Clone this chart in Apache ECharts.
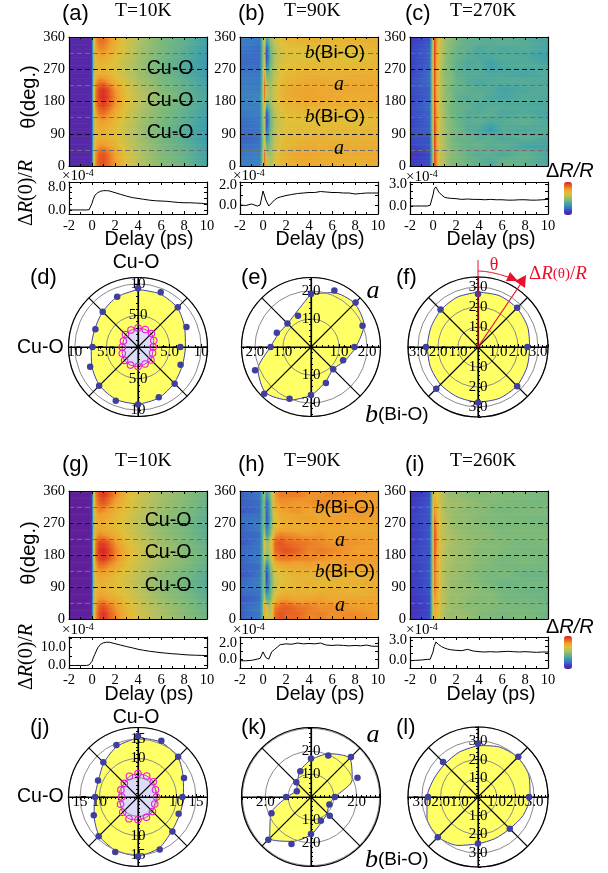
<!DOCTYPE html>
<html><head><meta charset="utf-8">
<script src="https://cdn.jsdelivr.net/npm/echarts@6/dist/echarts.min.js"></script>
<style>html,body{margin:0;padding:0;background:#fff}#c{width:608px;height:873px}</style></head>
<body><div id="c"></div>
<script>
// ---------- heat-map data (colour level 0-100, rows = theta strips, columns = delay nodes)
const heatDelays=[-2,-0.3,-0.05,0.1,0.3,0.6,1,1.5,2,3,4,5,6,8,10];
const heatThetas=[0,22.5,45,67.5,90,112.5,135,157.5,180,202.5,225,247.5,270,292.5,315,337.5,360];
const heatA=[
[4,4,8,50,82,90,92,86,78,66,57,52,47,42,34],[4,4,8,50,80,90,92,85,77,65,56,51,46,41,33],
[4,4,8,48,74,80,80,76,72,62,54,50,45,40,33],[4,4,8,46,70,73,72,70,68,60,53,48,44,38,31],
[4,4,8,46,70,73,73,71,68,60,53,48,44,38,31],[4,4,8,46,72,77,78,74,70,61,54,49,45,39,32],
[4,4,8,48,76,84,86,80,74,63,55,50,46,40,33],[4,4,8,50,82,91,94,88,79,66,57,52,47,41,34],
[4,4,8,52,85,95,98,91,81,67,58,53,48,42,35],[4,4,8,52,84,94,97,90,79,66,57,52,47,41,34],
[4,4,8,48,78,84,84,78,72,62,54,50,45,40,33],[4,4,8,46,70,73,72,70,66,59,52,48,44,38,31],
[4,4,8,46,68,71,70,68,65,58,52,47,43,37,30],[4,4,8,46,71,75,74,71,67,60,53,48,44,38,31],
[4,4,8,48,76,81,82,76,71,62,54,49,45,39,32],[4,4,8,50,80,86,86,80,73,63,55,50,45,40,33]];
const heatB=[
[24,24,50,88,62,55,64,70,72,74,75,73,74,72,74],[22,24,50,92,55,50,62,70,72,76,76,75,73,74,75],
[20,22,45,75,40,48,60,68,70,72,74,72,74,73,74],[18,20,45,65,28,44,58,66,69,70,71,72,70,71,72],
[20,22,45,60,16,42,57,64,67,68,69,68,70,70,71],[20,22,45,60,10,40,56,62,66,67,66,68,68,66,70],
[22,24,48,62,12,42,56,64,68,69,69,70,68,70,71],[24,24,48,75,35,48,60,68,71,72,73,72,73,73,74],
[24,26,50,88,58,52,62,70,73,75,77,76,75,73,75],[24,24,50,90,60,52,62,70,73,76,76,74,75,75,75],
[24,22,48,88,50,50,60,68,71,73,75,75,73,75,75],[22,22,46,82,40,47,58,66,69,71,72,71,72,72,73],
[20,20,45,70,18,42,56,64,67,68,69,69,68,69,71],[20,20,45,62,10,40,55,62,65,66,65,67,68,65,70],
[22,20,45,60,12,42,56,63,66,67,68,66,68,68,71],[24,22,46,68,30,48,60,67,70,71,72,72,70,72,73]];
const heatC=[
[10,14,46,94,82,58,54,47,45,42,40,36,42,40,36],[8,14,48,95,80,58,54,48,46,41,38,40,36,41,35],
[12,16,50,96,78,60,54,46,44,40,42,38,40,34,34],[14,16,52,96,78,58,52,46,42,42,38,40,36,40,36],
[14,18,54,97,80,58,52,46,44,38,36,30,38,36,38],[12,18,56,96,78,60,50,46,42,38,40,36,38,40,36],
[14,18,56,95,78,58,52,44,42,38,38,40,36,38,34],[14,20,56,94,76,58,50,44,42,40,36,38,38,36,36],
[12,18,58,95,76,56,50,46,40,38,40,36,35,38,36],[14,18,56,94,74,58,50,44,42,40,38,38,34,36,38],
[14,20,58,94,74,56,50,46,42,38,36,37,38,38,36],[12,20,58,94,76,56,48,46,40,38,38,36,36,34,38],
[12,18,58,95,74,58,50,44,40,36,38,32,36,38,36],[12,18,58,96,76,60,50,44,42,38,36,36,38,36,32],
[12,18,54,96,78,58,52,46,42,40,36,38,36,38,34],[10,16,50,95,80,60,52,48,44,40,40,38,40,38,35]];
const heatG=[
[1,1,6,48,80,92,97,90,83,72,64,58,54,48,42],[1,1,6,48,78,90,92,86,80,70,62,57,53,47,41],
[1,1,6,46,74,80,80,76,74,66,60,55,51,46,40],[1,1,6,46,70,74,72,70,68,64,58,53,49,44,38],
[1,1,6,46,68,72,71,70,68,63,57,52,48,43,37],[1,1,6,46,71,76,75,73,70,64,58,53,49,44,38],
[1,1,6,48,76,84,83,79,75,67,60,55,51,46,40],[1,1,6,50,83,93,96,90,82,70,62,57,53,47,41],
[1,1,6,52,86,97,99,93,84,71,63,57,53,47,41],[1,1,6,52,84,94,95,89,80,69,61,56,52,46,40],
[1,1,6,48,76,82,80,77,73,65,59,54,50,45,39],[1,1,6,46,70,74,72,71,68,63,57,53,49,44,38],
[1,1,6,46,72,76,74,72,70,64,58,54,50,45,39],[1,1,6,48,76,82,80,76,72,66,60,55,51,46,40],
[1,1,6,50,80,88,90,84,77,68,61,56,52,47,41],[1,1,6,50,84,92,96,90,82,70,63,57,53,48,42]];
const heatH=[
[18,22,40,72,68,55,86,92,88,88,82,84,80,82,78],[18,24,40,78,62,52,84,88,90,86,84,80,82,78,78],
[16,20,40,60,40,42,70,78,78,74,76,78,74,76,76],[20,22,40,50,22,38,62,68,70,72,70,72,74,70,74],
[20,24,40,48,14,36,60,66,68,70,72,69,70,72,74],[16,22,40,48,10,38,62,66,68,72,70,72,74,70,74],
[18,20,40,50,18,44,68,72,74,74,76,74,76,78,76],[18,24,40,60,40,52,80,84,84,82,82,80,78,79,78],
[20,22,40,65,50,58,86,90,92,88,82,84,82,78,78],[16,22,40,70,52,60,88,92,88,86,84,82,80,80,78],
[18,20,40,58,30,45,78,84,82,80,78,80,76,78,76],[18,24,40,48,20,38,68,72,74,72,74,76,76,74,76],
[22,22,40,46,14,34,66,72,74,76,78,74,78,78,78],[16,20,40,46,16,36,70,76,78,80,76,78,76,80,78],
[18,20,40,46,16,38,74,80,80,78,80,82,80,78,78],[18,22,40,50,28,46,78,84,84,84,80,80,82,80,78]];
const heatI=[
[8,14,52,74,70,62,54,50,52,50,46,46,44,46,42],[7,14,52,76,72,64,54,52,50,48,48,46,46,44,44],
[8,14,54,80,74,62,56,50,52,48,46,48,44,44,42],[10,16,54,84,76,62,54,52,50,50,48,46,44,42,42],
[10,16,54,86,78,64,56,50,50,48,46,44,42,44,44],[10,16,54,86,76,62,54,52,52,48,46,44,46,42,42],
[10,16,54,88,78,64,56,52,50,50,46,46,44,44,44],[12,16,54,90,78,62,56,54,52,50,48,46,44,46,44],
[12,16,54,91,80,64,56,52,52,50,46,48,46,44,44],[10,16,54,92,82,64,58,54,52,50,48,46,46,44,46],
[10,16,54,92,82,62,56,54,52,50,48,48,46,46,46],[10,16,54,90,80,62,56,52,50,48,48,46,44,46,44],
[12,16,54,87,76,62,56,52,50,50,46,46,46,44,44],[10,16,54,82,74,62,54,52,50,48,48,46,44,46,46],
[10,16,52,76,70,60,54,52,52,50,48,46,46,44,44],[8,14,52,72,68,60,54,50,50,48,46,48,46,46,44]];
const palette=['#641c96','#3c3cc4','#3a78c4','#3fa2a8','#78b87c','#b4c060','#e0c038','#f0a02c','#e8601f','#d81e26'];
// ---------- delay traces
const lineDelays=[-2,-1.5,-1,-0.5,-0.25,0,0.1,0.25,0.5,0.75,1,1.25,1.5,2,2.5,3,3.5,4,4.5,5,5.5,6,6.5,7,7.5,8,8.5,9,9.5,10];
const lineA=[0,0,0,0,0.1,2.3,3.6,5.1,6,6.5,6.7,6.7,6.6,6,5.4,4.8,4.3,4,3.7,3.4,3.2,3.1,3,2.8,2.6,2.5,2.5,2.4,2.3,2.1];
const lineB=[0,-0.05,0.1,-0.1,0,1.4,1.2,0.5,-0.1,0.2,0.5,0.7,0.8,0.95,1.05,1.15,1.2,1.25,1.25,1.35,1.3,1.25,1.25,1.2,1.2,1.1,1.15,1.2,1.2,1.2];
const lineC=[0,0,0,0,0.1,1.5,2.3,2.6,1.9,1.5,1.2,1.1,1.05,1,0.9,0.95,0.9,0.9,0.85,0.9,0.85,0.85,0.8,0.8,0.85,0.85,0.8,0.8,0.85,0.9];
const lineG=[-0.3,-0.3,-0.3,-0.3,0,2,3.8,6,9.5,11.5,12.3,12.6,12.6,11.8,11,10.2,9.5,8.7,8.1,7.6,7.2,6.8,6.5,6.2,6,5.7,5.5,5.4,5.3,5.2];
const lineH=[-0.2,-0.2,-0.15,0,0.1,0.9,0.8,0.2,0,0.9,1.2,1.5,1.8,1.9,1.85,2,1.9,1.95,1.9,2,1.75,1.7,1.75,1.7,1.65,1.7,1.65,1.75,1.6,1.6];
const lineI=[-0.1,-0.05,0,0.1,0.1,1.2,2,2.7,2.3,2,1.8,1.65,1.55,1.45,1.4,1.6,1.35,1.25,1.2,1.25,1.2,1.25,1.3,1.25,1.2,1.25,1.2,1.15,1.2,1.2];
// ---------- polar data (theta clockwise from top)
const theta16=[0,22.5,45,67.5,90,112.5,135,157.5,180,202.5,225,247.5,270,292.5,315,337.5];
const theta8=[0,45,90,135,180,225,270,315];
const ptsD=[9.3,9.4,8.9,8.3,6.7,7.3,8.2,8.6,9.1,9.2,8.7,8.2,7.2,7.3,7.9,8.6];
const fitD=[9.1,9.1,8.8,8.0,7.5,7.6,8.1,8.7,9.0,9.0,8.6,7.9,7.4,7.4,7.9,8.6];
const innerD=[3.0,3.0,3.0,2.7,2.4,2.5,2.9,2.9,3.1,3.1,3.0,2.7,2.5,2.5,2.8,2.9];
const ptsE=[1.89,2.18,2.25,1.99,1.55,1.24,1.12,1.39,1.71,2.0,2.36,2.16,1.44,1.32,1.19,1.21];
const fitE=[1.9,2.1,2.2,2.05,1.6,1.3,1.12,1.35,1.72,2.05,2.3,2.05,1.45,1.25,1.18,1.35];
const ptsF=[2.65,2.77,2.47,2.77,2.78,2.95,2.6,2.65];
const fitF=[2.75,2.78,2.75,2.68,2.58,2.65,2.75,2.78,2.75,2.7,2.65,2.58,2.53,2.55,2.62,2.7];
const ptsJ=[15.8,15.8,14.7,12.9,11.5,11.4,12.6,14.7,15.4,15.4,14.4,12.4,11.1,11.2,12.7,14.6];
const fitJ=[15.4,15.4,14.6,12.7,11.8,11.7,12.4,14.3,15.2,15,14.2,12.3,11.2,11.1,12.5,14.2];
const innerJ=[6.1,5.9,5.6,4.9,4.8,4.7,5.3,5.7,5.9,6.1,5.6,4.9,4.2,4.8,5.0,5.8];
const ptsK=[1.68,1.97,2.47,2.2,1.04,0.87,1.16,1.13,1.62,2.23,2.64,1.87,1.09,0.67,0.91,1.22];
const fitK=[1.65,2.05,2.4,1.95,1.05,0.85,1.0,1.2,1.65,2.1,2.55,1.9,1.05,0.7,0.85,1.25];
const ptsL=[2.85,3.04,2.73,2.4,2.48,3.04,2.67,2.64];
const fitL=[2.75,2.9,3.0,2.95,2.78,2.6,2.4,2.4,2.5,2.8,3.02,2.95,2.72,2.55,2.5,2.6];
// ---------- tick labels
const heatYLabels=[0,90,180,270,360];
const delayTicks=[-2,0,2,4,6,8,10];
const ringLabels={
 d:{top:['5.0','10'],right:['5.0','10'],bottom:['5.0','10'],left:['5.0','10']},
 e:{top:['1.0','2.0'],right:['1.0','2.0'],bottom:['1.0','2.0'],left:['1.0','2.0']},
 f:{top:['1.0','2.0','3.0'],right:['1.0','2.0','3.0'],bottom:['1.0','2.0','3.0'],left:['1.0','2.0','3.0']},
 j:{top:['','10','15'],right:['','10','15'],bottom:['','10','15'],left:['','10','15']},
 k:{top:['1.0','2.0',''],right:['','2.0',''],bottom:['1.0','2.0',''],left:['','2.0','']},
 l:{top:['1.0','2.0','3.0'],right:['1.0','2.0','3.0'],bottom:['1.0','2.0','3.0'],left:['1.0','2.0','3.0']}
};

const SERIF='"Liberation Serif",serif', SANS='"Liberation Sans",sans-serif';
function hex(c){return [1,3,5].map(i=>parseInt(c.substr(i,2),16));}
function colorOf(v){
  const p=Math.max(0,Math.min(99.999,v))/100*(palette.length-1),i=Math.floor(p),f=p-i;
  const a=hex(palette[i]),b=hex(palette[i+1]);
  return 'rgb('+a.map((x,k)=>Math.round(x+(b[k]-x)*f)).join(',')+')';
}
const option={animation:false,backgroundColor:'#fff',grid:[],xAxis:[],yAxis:[],polar:[],angleAxis:[],radiusAxis:[],series:[],graphic:[],visualMap:[]};
const tickStyle={color:'#000',width:1};
const lbl=(extra)=>Object.assign({color:'#000',fontFamily:SERIF,fontSize:14.5},extra||{});

function addFrame(l,t,w,h,xo,yo){
  const g=option.grid.length;
  option.grid.push({left:l,top:t,width:w,height:h,containLabel:false});
  const xi=option.xAxis.length, yi=option.yAxis.length;
  const xBase={type:'value',gridIndex:g,min:-2,max:10,interval:2,z:5,splitLine:{show:false},
    axisLine:{show:true,onZero:false,lineStyle:{color:'#000',width:1.2}},
    axisTick:{show:true,inside:true,length:3,lineStyle:tickStyle},minorTick:{show:true,splitNumber:2,length:2,lineStyle:tickStyle}};
  option.xAxis.push(Object.assign({},xBase,{position:'bottom',axisLabel:xo.labels?lbl({margin:5,customValues:delayTicks}):{show:false}}));
  option.xAxis.push(Object.assign({},xBase,{position:'top',axisLabel:{show:false}}));
  const yBase=Object.assign({type:'value',gridIndex:g,z:5,axisLine:{show:true,onZero:false,lineStyle:{color:'#000',width:1.2}},
    axisTick:{show:true,inside:true,length:3,lineStyle:tickStyle},splitLine:{show:false}},yo.base);
  option.yAxis.push(Object.assign({},yBase,{position:'left',axisLabel:yo.label,splitLine:yo.leftSplit||{show:false}}));
  option.yAxis.push(Object.assign({},yBase,{position:'right',axisLabel:{show:false},splitLine:yo.rightSplit||{show:false}}));
  return {x:xi,y:yi};
}
function heatPanel(l,t,w,h,rows){
  const a=addFrame(l,t,w,h,{labels:false},{
    base:{min:0,max:360,interval:90},
    label:lbl({margin:4,customValues:heatYLabels}),
    leftSplit:{show:true,showMinLine:false,showMaxLine:false,lineStyle:{color:'#111',type:[5,3],width:1}}});
  // grey half-way guides live on the right axis at a 45 deg interval
  option.yAxis[a.y+1].interval=45;
  option.yAxis[a.y+1].z=4;
  option.yAxis[a.y+1].axisTick={show:false};
  option.yAxis[a.y+1].splitLine={show:true,showMinLine:false,showMaxLine:false,lineStyle:{color:'#6e6e6e',type:[5,3],width:1}};
  // each read value sits at the middle of its theta strip; the cells are shaded bilinearly between them
  const mids=rows.map((_,r)=>(heatThetas[r]+heatThetas[r+1])/2), last=rows.length-1, data=[];
  for(let r=-1;r<=last;r++){
    const lo=rows[Math.max(r,0)],hi=rows[Math.min(r+1,last)];
    const y0=r<0?heatThetas[0]:mids[r], y1=r===last?heatThetas[last+1]:mids[r+1];
    for(let c=0;c<lo.length-1;c++)
      data.push([heatDelays[c],heatDelays[c+1],y0,y1,lo[c],lo[c+1],hi[c],hi[c+1]]);
  }
  option.series.push({type:'custom',xAxisIndex:a.x,yAxisIndex:a.y,z:2,clip:true,silent:true,
    dimensions:['x0','x1','y0','y1','v00','v10','v01','v11'],encode:{x:[0,1],y:[2,3]},data,
    renderItem:(p,api)=>{
      const A=api.coord([api.value(0),api.value(3)]),B=api.coord([api.value(1),api.value(2)]);
      const v00=api.value(4),v10=api.value(5),v01=api.value(6),v11=api.value(7);
      const H=B[1]-A[1],W=B[0]-A[0],N=Math.max(1,Math.round(H/1.5)),M=Math.max(2,Math.min(8,Math.round(Math.abs(v10-v00)/6)+2));
      const children=[];
      for(let k=0;k<N;k++){
        const f=(k+0.5)/N;            // f=0 at the top edge (y1), 1 at the bottom edge (y0)
        const vl=v01+(v00-v01)*f, vr=v11+(v10-v11)*f, stops=[];
        for(let i=0;i<=M;i++)stops.push({offset:i/M,color:colorOf(vl+(vr-vl)*i/M)});
        children.push({type:'rect',shape:{x:A[0],y:A[1]+H*k/N,width:W+0.6,height:H/N+0.6},
          style:{fill:new echarts.graphic.LinearGradient(0,0,1,0,stops)}});
      }
      return {type:'group',children};
    }});
  return option.series.length-1;
}
function linePanel(l,t,w,h,vals,min,max,labels,ticks){
  const a=addFrame(l,t,w,h,{labels:true},{
    base:{min,max,axisTick:{show:true,inside:true,length:3,lineStyle:tickStyle,customValues:ticks}},
    label:lbl({margin:3,customValues:labels,formatter:v=>Number(v).toFixed(1)})});
  option.series.push({type:'line',xAxisIndex:a.x,yAxisIndex:a.y,z:3,showSymbol:false,symbol:'none',silent:true,
    lineStyle:{color:'#000',width:1},data:lineDelays.map((d,i)=>[d,vals[i]])});
}
function close(a){return a.concat([a[0]]);}
function polarPanel(cx,cy,R,rmax,step,labels,pts,ptThetas,fit,inner){
  const dirs=[['main',90],['top',90],['right',0],['bottom',270],['left',180]];
  const curveTheta=theta16.concat([360]);
  let mainIdx;
  dirs.forEach(([name,start])=>{
    const idx=option.polar.length;
    option.polar.push({center:[cx,cy],radius:[0,R]});
    if(name==='main'){
      mainIdx=idx;
      option.angleAxis.push({polarIndex:idx,type:'value',min:0,max:360,interval:45,startAngle:90,clockwise:true,z:5,
        axisLine:{show:false},axisTick:{show:false},axisLabel:{show:false},minorTick:{show:false},
        splitLine:{show:true,lineStyle:{color:'#000',width:1.1}}});
      option.radiusAxis.push({polarIndex:idx,type:'value',min:0,max:rmax,interval:step,z:4,
        axisLine:{show:false},axisTick:{show:false},axisLabel:{show:false},
        splitLine:{show:true,lineStyle:{color:'#8a8a8a',width:1}}});
    }else{
      option.angleAxis.push({polarIndex:idx,type:'value',min:0,max:360,startAngle:start,z:6,
        axisLine:{show:name==='left',lineStyle:{color:'#000',width:1.2}},axisTick:{show:false},axisLabel:{show:false},splitLine:{show:false}});
      const tx=labels[name];
      const lab=lbl({fontSize:15,showMaxLabel:false,showMinLabel:false,margin:name==='left'?-2:(name==='right'?2:0),
        align:'center',verticalAlign:(name==='left'||name==='right')?'top':'middle',
        formatter:v=>{const i=Math.round(v/step)-1;return (Math.abs(v/step-Math.round(v/step))<1e-6&&tx[i])||'';}});
      option.radiusAxis.push({polarIndex:idx,type:'value',min:0,max:rmax,interval:step,z:6,
        axisLine:{show:true,lineStyle:{color:'#000',width:1.2}},
        axisTick:{show:true,length:3,inside:false,lineStyle:tickStyle},
        minorTick:{show:true,splitNumber:5,length:2,lineStyle:tickStyle},
        splitLine:{show:false},axisLabel:lab});
    }
  });
  option.series.push({type:'line',coordinateSystem:'polar',polarIndex:mainIdx,z:2,silent:true,symbol:'none',smooth:0.25,
    data:close(fit).map((v,i)=>[v,curveTheta[i]]),lineStyle:{color:'#4040a8',width:1},areaStyle:{color:'#ffff66',opacity:1}});
  option.series.push({type:'scatter',coordinateSystem:'polar',polarIndex:mainIdx,z:8,silent:true,symbol:'circle',symbolSize:6.5,
    data:pts.map((v,i)=>[v,ptThetas[i]]),itemStyle:{color:'#3f3f9f',opacity:1}});
  if(inner){
    option.series.push({type:'line',coordinateSystem:'polar',polarIndex:mainIdx,z:3,silent:true,symbol:'none',smooth:0.25,
      data:close(inner).map((v,i)=>[v,curveTheta[i]]),lineStyle:{color:'#e020d0',width:1},areaStyle:{color:'#dcdcf8',opacity:1}});
    option.series.push({type:'scatter',coordinateSystem:'polar',polarIndex:mainIdx,z:8,silent:true,symbol:'circle',symbolSize:6.5,
      data:inner.map((v,i)=>[v,theta16[i]]),itemStyle:{color:'rgba(0,0,0,0)',borderColor:'#e81cd8',borderWidth:1.1,opacity:1}});
  }
}
// heat panels
const s0=heatPanel(69,37,138,129,heatA); heatPanel(240,37,138,129,heatB); heatPanel(410,37,138,129,heatC);
const s1=heatPanel(69,491,138,128,heatG); heatPanel(240,491,138,128,heatH); heatPanel(410,491,138,128,heatI);
// traces
linePanel(69,182,138,32,lineA,-1.4,9.7,[0,8],[0,2,4,6,8]);
linePanel(240,182,138,32,lineB,-0.9,2.3,[0,2],[0,1,2]);
linePanel(410,182,138,32,lineC,-1.09,3.27,[0,3],[0,1,2,3]);
linePanel(69,637,138,31,lineG,-1.7,15.5,[0,10],[0,5,10,15]);
linePanel(240,637,138,31,lineH,-1.1,2.75,[0,2],[0,1,2]);
linePanel(410,637,138,31,lineI,-1.2,3.45,[0,3],[0,1,2,3]);
// polar panels
polarPanel(138,347,69.5,11,5,ringLabels.d,ptsD,theta16,fitD,innerD);
polarPanel(311,347,69.5,2.48,1,ringLabels.e,ptsE,theta16,fitE);
polarPanel(478,347,70,3.5,1,ringLabels.f,ptsF,theta8,fitF);
polarPanel(138,797,69.5,18,5,ringLabels.j,ptsJ,theta16,fitJ,innerJ);
polarPanel(311,797,69.5,3.04,1,ringLabels.k,ptsK,theta16,fitK);
polarPanel(478,797,70,3.74,1,ringLabels.l,ptsL,theta8,fitL);
// colour bars
[[182,s0],[636,s1]].forEach(([top,si])=>option.visualMap.push({type:'continuous',show:true,calculable:false,seriesIndex:si,dimension:4,
  min:0,max:100,left:564,top:top,itemWidth:8,itemHeight:33,padding:0,text:null,showLabel:false,hoverLink:false,realtime:false,
  inRange:{color:palette},textStyle:{fontSize:0}}));
// text
function T(x,y,text,o){o=o||{};
  option.graphic.push({type:'text',x,y,rotation:o.rot||0,z:50,silent:true,
    style:{text,fill:o.fill||'#000',font:(o.w||'')+' '+(o.s||19)+'px '+(o.f||SANS),align:o.a||'left',verticalAlign:'middle',rich:o.rich}});
}
const ser=(s,st,fill)=>({font:(st||'')+' '+s+'px '+SERIF,fill:fill||'#000',verticalAlign:'middle'});
const san=(s,st)=>({font:(st||'')+' '+s+'px '+SANS,fill:'#000'});
[['(a)',62,14],['(b)',238,14],['(c)',405,14],['(d)',30,278],['(e)',241,278],['(f)',396,278],
 ['(g)',62,465],['(h)',238,465],['(i)',405,465],['(j)',30,728],['(k)',241,728],['(l)',396,728]].forEach(a=>T(a[1],a[2],a[0],{s:22}));
[['T=10K',115,11],['T=90K',284,11],['T=270K',450,11],['T=10K',115,461],['T=90K',284,461],['T=260K',450,461]].forEach(a=>T(a[1],a[2],a[0],{f:SERIF,s:19.5}));
[[149,240],[320,240],[491,240],[149,695],[320,695],[491,695]].forEach(a=>T(a[0],a[1],'Delay (ps)',{s:19.5,a:'center'}));
[[29,97],[29,553]].forEach(a=>T(a[0],a[1],'θ(deg.)',{s:20,a:'center',rot:Math.PI/2}));
[[27,193],[27,657]].forEach(a=>T(a[0],a[1],'Δ{i|R}(0)/{i|R}',{f:SERIF,s:20,a:'center',rot:Math.PI/2,rich:{i:ser(20,'italic')}}));
[[62,176],[233,176],[406,177],[62,630],[233,630],[406,630]].forEach(a=>T(a[0],a[1],'×10{u|-4}',{f:SERIF,s:15,rich:{u:{font:'10px '+SERIF,fill:'#000',verticalAlign:'top',padding:[0,0,5,0]}}}));
[[546,171],[546,627]].forEach(a=>T(a[0],a[1],'Δ{i|R/R}',{s:20,rich:{i:san(20,'italic')}}));
[[170,69],[170,101],[170,133],[168,521],[168,553],[168,586]].forEach(a=>T(a[0],a[1],'Cu-O',{s:19.5,a:'center'}));
[[136,263],[136,718]].forEach(a=>T(a[0],a[1],'Cu-O',{s:19.5,a:'center'}));
[[17,348],[17,797]].forEach(a=>T(a[0],a[1],'Cu-O',{s:19.5}));
const bRich={b:ser(19,'italic')};
[[305,53],[305,117],[315,508],[315,572]].forEach(a=>T(a[0],a[1],'{b|b}(Bi-O)',{s:19,rich:bRich}));
[[339,85],[339,149],[340,541],[340,606]].forEach(a=>T(a[0],a[1],'a',{f:SERIF,w:'italic',s:20,a:'center'}));
[[373,291],[373,735]].forEach(a=>T(a[0],a[1],'a',{f:SERIF,w:'italic',s:26,a:'center'}));
[[365,415],[365,860]].forEach(a=>T(a[0],a[1],'{b|b}(Bi-O)',{s:19,rich:{b:ser(26,'italic')}}));
// angle annotation in panel (f)
const RED='#e8112d';
option.graphic.push({type:'line',z:40,silent:true,shape:{x1:478,y1:260,x2:478,y2:347},style:{stroke:RED,lineWidth:1}});
option.graphic.push({type:'line',z:40,silent:true,shape:{x1:478,y1:347,x2:522,y2:282},style:{stroke:RED,lineWidth:1.2}});
option.graphic.push({type:'polygon',z:40,silent:true,shape:{points:[[526,275],[525,288],[515,281]]},style:{fill:RED}});
option.graphic.push({type:'bezierCurve',z:40,silent:true,shape:{x1:478,y1:271,cpx1:490,cpy1:271,x2:508,y2:277},style:{stroke:RED,lineWidth:1,fill:'none'}});
option.graphic.push({type:'polygon',z:40,silent:true,shape:{points:[[518,281],[506,281],[510,272]]},style:{fill:RED}});
T(494,265,'θ',{f:SERIF,s:18,a:'center',fill:RED});
T(529,274,'Δ{i|R}{s|(θ)}/{i|R}',{f:SERIF,s:19,fill:RED,rich:{i:ser(19,'italic',RED),s:{font:'15px '+SERIF,fill:RED}}});

const chart=echarts.init(document.getElementById('c'),null,{renderer:'canvas',width:608,height:873});
chart.setOption(option);
</script></body></html>
